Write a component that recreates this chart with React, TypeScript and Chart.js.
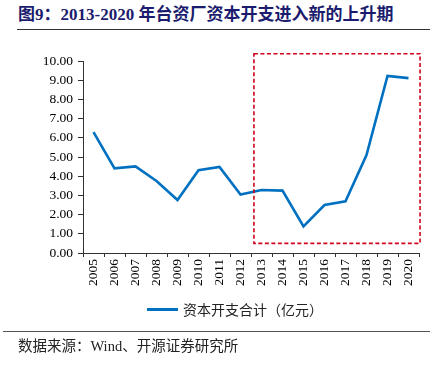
import React, { useEffect, useRef } from "react";
import { Chart, registerables } from "chart.js";

Chart.register(...registerables);

const categories = ["2005","2006","2007","2008","2009","2010","2011","2012","2013","2014","2015","2016","2017","2018","2019","2020"];
const capex = [6.3, 4.41, 4.51, 3.75, 2.76, 4.31, 4.48, 3.04, 3.28, 3.25, 1.39, 2.5, 2.69, 5.1, 9.22, 9.11];
const seriesName = "资本开支合计（亿元）";
const titleText = "图9：2013-2020 年台资厂资本开支进入新的上升期";
const sourceText = "数据来源：Wind、开源证券研究所";
const lineColor = "#0070C0";
// highlight box in data units (category index, value)
const boxXRange = [7.64, 15.55];
const boxYRange = [0.5, 10.38];

const boxPlugin = {
  id: "highlightBox",
  afterDatasetsDraw(chart: any) {
    const { ctx, scales } = chart;
    const x = scales.x, y = scales.y;
    const x1 = x.getPixelForValue(boxXRange[0]);
    const x2 = x.getPixelForValue(boxXRange[1]);
    const y1 = y.getPixelForValue(boxYRange[1]);
    const y2 = y.getPixelForValue(boxYRange[0]);
    ctx.save();
    ctx.strokeStyle = "#D0021B";
    ctx.lineWidth = 1.6;
    ctx.setLineDash([4, 2.5]);
    ctx.strokeRect(x1, y1, x2 - x1, y2 - y1);
    ctx.restore();
  },
};

export default function App() {
  const ref = useRef<HTMLCanvasElement>(null);
  useEffect(() => {
    const serif = "'Liberation Serif', 'Noto Sans CJK SC', serif";
    const chart = new Chart(ref.current!, {
      type: "line",
      data: {
        labels: categories,
        datasets: [
          {
            label: seriesName,
            data: capex,
            borderColor: lineColor,
            backgroundColor: lineColor,
            borderWidth: 2.6,
            pointRadius: 0,
            tension: 0,
          },
        ],
      },
      options: {
        animation: false,
        responsive: false,
        maintainAspectRatio: false,
        layout: { padding: { left: 0, right: 19, top: 61, bottom: 76 } },
        plugins: {
          legend: { display: false },
          tooltip: { enabled: false },
        },
        scales: {
          x: {
            offset: true,
            grid: { display: true, offset: true, drawOnChartArea: false, drawTicks: true, tickLength: 4, color: "#333" },
            border: { color: "#333", width: 1 },
            ticks: {
              minRotation: 90,
              maxRotation: 90,
              autoSkip: false,
              padding: 2,
              color: "#000",
              font: { family: serif, size: 13.5 },
            },
            afterFit(scale: any) {
              scale.height = 40;
            },
          },
          y: {
            min: 0,
            max: 10,
            grid: { display: true, drawOnChartArea: false, drawTicks: true, tickLength: 5, color: "#333" },
            border: { color: "#333", width: 1 },
            ticks: {
              stepSize: 1,
              padding: 5,
              color: "#000",
              font: { family: serif, size: 13.5 },
              callback: (v: any) => Number(v).toFixed(2),
            },
            afterFit(scale: any) {
              scale.width = 83;
            },
          },
        },
      },
      plugins: [boxPlugin],
    });
    return () => chart.destroy();
  }, []);

  return (
    <div style={{ position: "absolute", left: 0, top: 0, width: 438, height: 369, background: "#fff" }}>
      <div
        style={{
          position: "absolute",
          left: 18,
          top: 5,
          fontFamily: "'Liberation Serif', 'Noto Sans CJK SC', serif",
          fontWeight: "bold",
          fontSize: 17,
          color: "#1C1C6E",
          whiteSpace: "nowrap",
          lineHeight: "20px",
        }}
      >
        {titleText}
      </div>
      <div style={{ position: "absolute", left: 17, top: 29, width: 413, height: 1, background: "#333" }} />
      <canvas ref={ref} width={438} height={369} style={{ position: "absolute", left: 0, top: 0 }} />
      <div
        style={{
          position: "absolute",
          left: 147,
          top: 299,
          height: 20,
          display: "flex",
          alignItems: "center",
          whiteSpace: "nowrap",
        }}
      >
        <span style={{ display: "inline-block", width: 31, height: 3, background: lineColor, marginRight: 5 }} />
        <span
          style={{
            fontFamily: "'Noto Sans CJK SC', sans-serif",
            fontSize: 14,
            color: "#222",
            lineHeight: "20px",
          }}
        >
          {seriesName}
        </span>
      </div>
      <div style={{ position: "absolute", left: 3, top: 331, width: 427, height: 1, background: "#555" }} />
      <div
        style={{
          position: "absolute",
          left: 18,
          top: 337,
          fontFamily: "'Liberation Serif', 'Noto Sans CJK SC', serif",
          fontSize: 14.5,
          color: "#222",
          whiteSpace: "nowrap",
          lineHeight: "18px",
        }}
      >
        {sourceText}
      </div>
    </div>
  );
}
